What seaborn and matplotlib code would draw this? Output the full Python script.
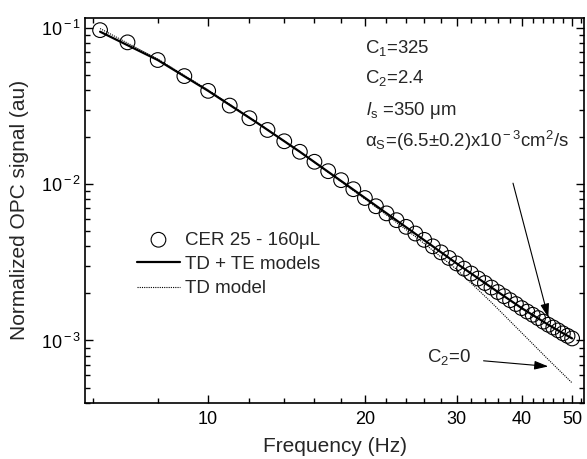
import numpy as np
import pandas as pd
import seaborn as sns
import matplotlib.pyplot as plt
from matplotlib.ticker import FixedLocator, FuncFormatter, NullFormatter, LogLocator

# measured OPC signal (open circles)
freq = [6.2, 7, 8, 9, 10, 11, 12, 13, 14, 15, 16, 17, 18, 19, 20, 21, 22, 23, 24, 25,
        26, 27, 28, 29, 30, 31, 32, 33, 34, 35, 36, 37, 38, 39, 40, 41, 42, 43, 44, 45,
        46, 47, 48, 49, 50]
signal = [0.0966, 0.0807, 0.0622, 0.0491, 0.0395, 0.0318, 0.0264, 0.0222, 0.0188, 0.0161,
          0.0139, 0.0121, 0.0106, 0.00928, 0.00815, 0.00722, 0.00650, 0.00588, 0.00533, 0.00483,
          0.00440, 0.00400, 0.00366, 0.00337, 0.00311, 0.00288, 0.00268, 0.00249, 0.00233, 0.00218,
          0.00204, 0.00192, 0.00181, 0.00171, 0.00161, 0.00153, 0.00146, 0.00139, 0.00132, 0.00126,
          0.00121, 0.00116, 0.00111, 0.00107, 0.00103]

# model curves
model_freq = [6.2, 8, 10, 12.5, 15, 20, 25, 30, 35, 40, 45, 50]
td_te = [0.0944, 0.0622, 0.0395, 0.0243, 0.0161, 0.00817, 0.00481, 0.00311, 0.00218, 0.00161,
         0.00126, 0.00103]
td_only = [0.0989, 0.0631, 0.0400, 0.0244, 0.0161, 0.00804, 0.00462, 0.00285, 0.00175, 0.00112,
           0.000755, 0.000535]

sns.set_style('ticks')
plt.rcParams['font.family'] = ['Liberation Sans', 'DejaVu Sans']
plt.rcParams['mathtext.fontset'] = 'custom'
plt.rcParams['mathtext.rm'] = 'Liberation Sans'
plt.rcParams['mathtext.it'] = 'Liberation Sans:italic'
plt.rcParams['mathtext.bf'] = 'Liberation Sans:bold'

fig = plt.figure(figsize=(5.87, 4.59), dpi=100)
ax = fig.add_axes([0.1448, 0.122, 0.8501, 0.8394])
ax.set_xscale('log')
ax.set_yscale('log')

pts = pd.DataFrame({'f': freq, 's': signal})
sns.scatterplot(data=pts, x='f', y='s', marker='o', s=112, facecolors='none',
                edgecolor='black', linewidth=0.8, ax=ax, label='CER 25 - 160μL', zorder=2)

models = pd.DataFrame({'f': model_freq, 'te': td_te, 'td': td_only})
sns.lineplot(data=models, x='f', y='te', color='black', lw=1.6, ax=ax,
             label='TD + TE models', zorder=3)
sns.lineplot(data=models, x='f', y='td', color='black', lw=0.8, ls=(0, (1, 1)), ax=ax,
             label='TD model', zorder=3)

ax.set_xlim(5.8, 52.7)
ax.set_ylim(3.98e-4, 0.116)

ax.xaxis.set_major_locator(FixedLocator([10, 20, 30, 40, 50]))
ax.xaxis.set_major_formatter(FuncFormatter(lambda v, p: f'{v:g}'))
ax.xaxis.set_minor_locator(FixedLocator([6, 8, 12, 14, 16, 18, 22, 24, 26, 28, 32, 34, 36, 38,
                                         42, 44, 46, 48, 52]))
ax.xaxis.set_minor_formatter(NullFormatter())
ax.yaxis.set_major_locator(LogLocator(base=10))
ax.yaxis.set_major_formatter(FuncFormatter(lambda v, p: r'10$^{\rm %d}$' % round(np.log10(v))))
ax.yaxis.set_minor_locator(LogLocator(base=10, subs=range(2, 10)))
ax.yaxis.set_minor_formatter(NullFormatter())

ax.tick_params(which='both', direction='in', top=True, right=True, width=1, labelsize=13,
               colors='black')
ax.tick_params(which='major', length=6)
ax.tick_params(which='minor', length=3.5)
ax.tick_params(axis='x', pad=6)
ax.tick_params(axis='y', pad=3)
for sp in ax.spines.values():
    sp.set_linewidth(1.2)
    sp.set_color('black')

ax.set_xlabel('Frequency (Hz)', fontsize=15, labelpad=6)
ax.set_ylabel('Normalized OPC signal (au)', fontsize=15, labelpad=8)

handles, labels = ax.get_legend_handles_labels()
ax.legend(handles, labels, loc='upper left', bbox_to_anchor=(0.104, 0.445), frameon=False,
          fontsize=13.5, handlelength=2.3, handletextpad=0.25, labelspacing=0.38,
          borderpad=0, borderaxespad=0)

# parameter text
W, H = 587, 459
fs = 13.4
fig.text(365 / W, 1 - 53.3 / H, r'C$_{\rm 1}$=325', fontsize=fs, va='baseline')
fig.text(365 / W, 1 - 83.3 / H, r'C$_{\rm 2}$=2.4', fontsize=fs, va='baseline')
fig.text(366 / W, 1 - 115 / H, r'$l_{\rm s}$ =350 μm', fontsize=fs, va='baseline')
fig.text(365 / W, 1 - 146.7 / H, r'α$_{\rm S}$=(6.5±0.2)x10$^{\rm -3}$cm$^{\rm 2}$/s',
         fontsize=fs, va='baseline')
fig.text(426.7 / W, 1 - 361.7 / H, r'C$_{\rm 2}$=0', fontsize=fs, va='baseline')

arrow = dict(arrowstyle='-|>,head_length=0.7,head_width=0.22', color='black', lw=0.8,
             mutation_scale=12, shrinkA=0, shrinkB=0)
ax.annotate('', xy=(45.0, 1.40e-3), xytext=(38.5, 1.014e-2), arrowprops=arrow)
ax.annotate('', xy=(45.0, 6.82e-4), xytext=(33.8, 7.41e-4), arrowprops=arrow)

fig.savefig('out.png', dpi=100)
